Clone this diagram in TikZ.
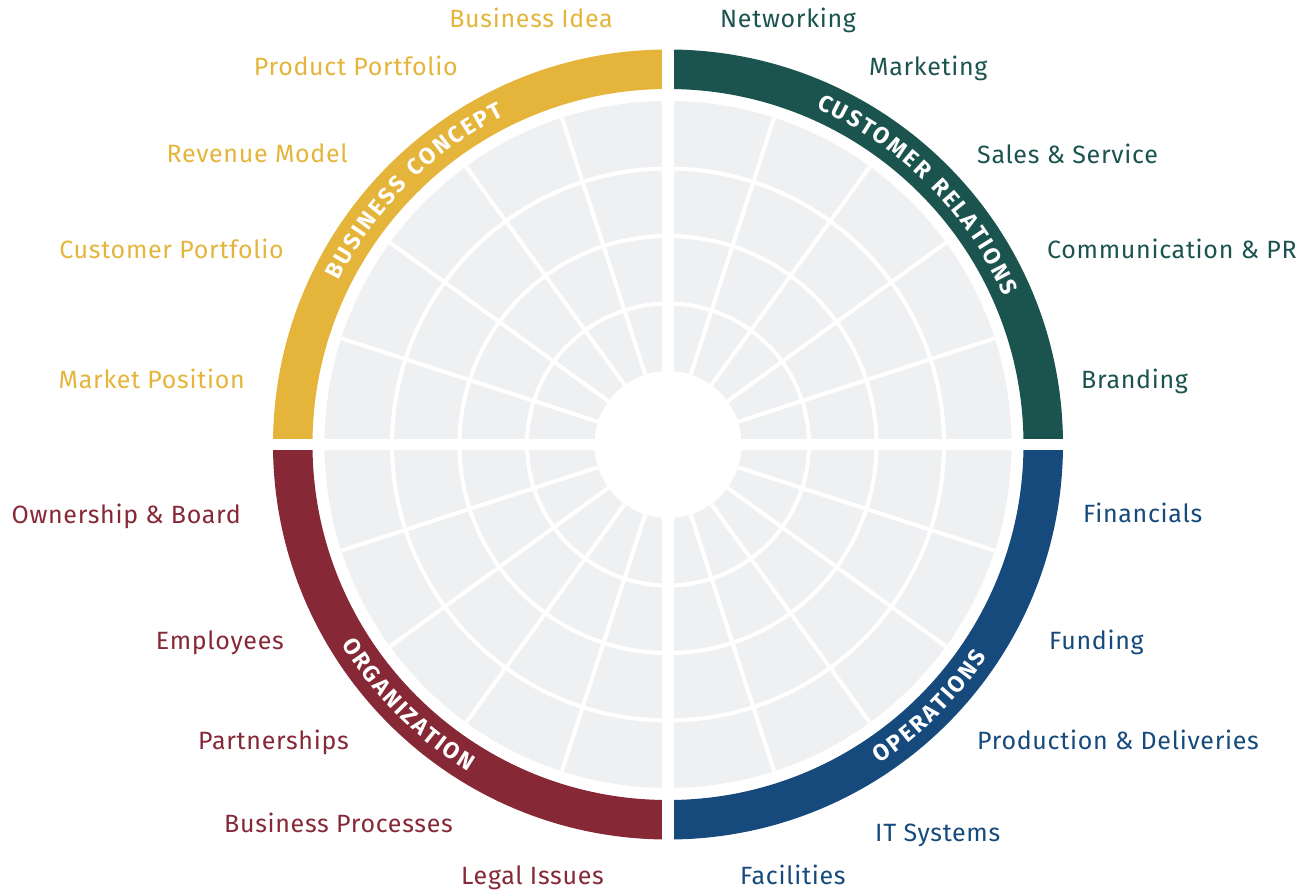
\documentclass[tikz,border=0pt]{standalone}
\usepackage{fontspec}
\setmainfont{Fira Sans}[LetterSpace=2.8]
\definecolor{concept}{HTML}{E4B53A}
\definecolor{relations}{HTML}{1B544F}
\definecolor{organization}{HTML}{862836}
\definecolor{operations}{HTML}{164A7C}
\definecolor{field}{HTML}{EFF0F2}
\newcommand\ringstyle{\bfseries\fontsize{23}{27}\selectfont}
\newcommand\ringwidth[1]{\pgfinterruptpicture\setbox0\hbox{\ringstyle#1}%
  \xdef\ringw{\the\wd0}\endpgfinterruptpicture}
% #1 centre angle, #2 baseline radius, #3 side (1 top, -1 bottom), #4 name, #5 letters
\newcommand\ringlabel[5]{%
  \gdef\ringtotal{0}%
  \foreach \ch in {#5}{%
    \ringwidth{\ch}%
    \pgfmathparse{\ringtotal+\ringw+2.2}\xdef\ringtotal{\pgfmathresult}}%
  \gdef\ringcursor{0}%
  \foreach \ch [count=\i] in {#5}{%
    \ringwidth{\ch}%
    \pgfmathsetmacro\ringang{#1+(#3)*(\ringtotal/2-\ringcursor-(\ringw+2.2)/2)*57.2958/#2}%
    \pgfmathsetmacro\ringrot{\ringang-(#3)*90}%
    \node[ringchar, rotate=\ringrot] (#4-\i) at (\ringang:#2) {\ch};
    \pgfmathparse{\ringcursor+\ringw+2.2}\xdef\ringcursor{\pgfmathresult}}%
}
\tikzset{
  lab/.style={font=\fontsize{25}{30}\selectfont, inner sep=0pt},
  ringchar/.style={font=\ringstyle, text=white, inner sep=0pt, anchor=base}
}
\begin{document}
\begin{tikzpicture}[x=1pt, y=1pt]
  \useasboundingbox (-668,-447.5) rectangle (634,444.5);
  \foreach \a/\c in {90/concept, 0/relations, 180/organization, 270/operations}
    \fill[\c] (\a:395) arc[start angle=\a, end angle=\a+90, radius=395] --
              (\a+90:355.5) arc[start angle=\a+90, end angle=\a, radius=355.5] -- cycle;
  \fill[field] (0,0) circle[radius=343.5];
  \foreach \r in {141,208.5,276}
    \draw[white, line width=4] (0,0) circle[radius=\r];
  \foreach \a in {0,18,...,342}
    \draw[white, line width=4] (\a:73.5) -- (\a:343.5);
  \fill[white] (-6,-400) rectangle (6,400);
  \fill[white] (-400,-5.5) rectangle (400,5.5);
  \fill[white] (0,0) circle[radius=73.5];

  \ringlabel{135}{367.5}{1}{concept}{B,U,S,I,N,E,S,S,~,C,O,N,C,E,P,T}
  \ringlabel{45}{367.5}{1}{relations}{C,U,S,T,O,M,E,R,~,R,E,L,A,T,I,O,N,S}
  \ringlabel{225}{383}{-1}{organization}{O,R,G,A,N,I,Z,A,T,I,O,N}
  \ringlabel{315}{383}{-1}{operations}{O,P,E,R,A,T,I,O,N,S}

  \node[lab, text=concept, anchor=base east] (idea) at (-55,417) {Business Idea};
  \node[lab, text=concept, anchor=base east] (product) at (-210,368.5) {Product Portfolio};
  \node[lab, text=concept, anchor=base east] (revenue) at (-320,281.5) {Revenue Model};
  \node[lab, text=concept, anchor=base east] (customer) at (-384,185.5) {Customer Portfolio};
  \node[lab, text=concept, anchor=base east] (market) at (-423,56.5) {Market Position};

  \node[lab, text=relations, anchor=base west] (networking) at (52,416.5) {Networking};
  \node[lab, text=relations, anchor=base west] (marketing) at (201,368.5) {Marketing};
  \node[lab, text=relations, anchor=base west] (sales) at (309,281) {Sales \& Service};
  \node[lab, text=relations, anchor=base west] (communication) at (379,186) {Communication \& PR};
  \node[lab, text=relations, anchor=base west] (branding) at (413,56) {Branding};

  \node[lab, text=operations, anchor=base west] (financials) at (415,-78) {Financials};
  \node[lab, text=operations, anchor=base west] (funding) at (381,-205) {Funding};
  \node[lab, text=operations, anchor=base west] (production) at (309,-305) {Production \& Deliveries};
  \node[lab, text=operations, anchor=base west] (itsystems) at (207,-397) {IT Systems};
  \node[lab, text=operations, anchor=base west] (facilities) at (72,-439.5) {Facilities};

  \node[lab, text=organization, anchor=base east] (ownership) at (-427,-79) {Ownership \& Board};
  \node[lab, text=organization, anchor=base east] (employees) at (-384,-204.5) {Employees};
  \node[lab, text=organization, anchor=base east] (partnerships) at (-319,-304.5) {Partnerships};
  \node[lab, text=organization, anchor=base east] (processes) at (-215,-387.5) {Business Processes};
  \node[lab, text=organization, anchor=base east] (legal) at (-64,-439.5) {Legal Issues};
\end{tikzpicture}
\end{document}
